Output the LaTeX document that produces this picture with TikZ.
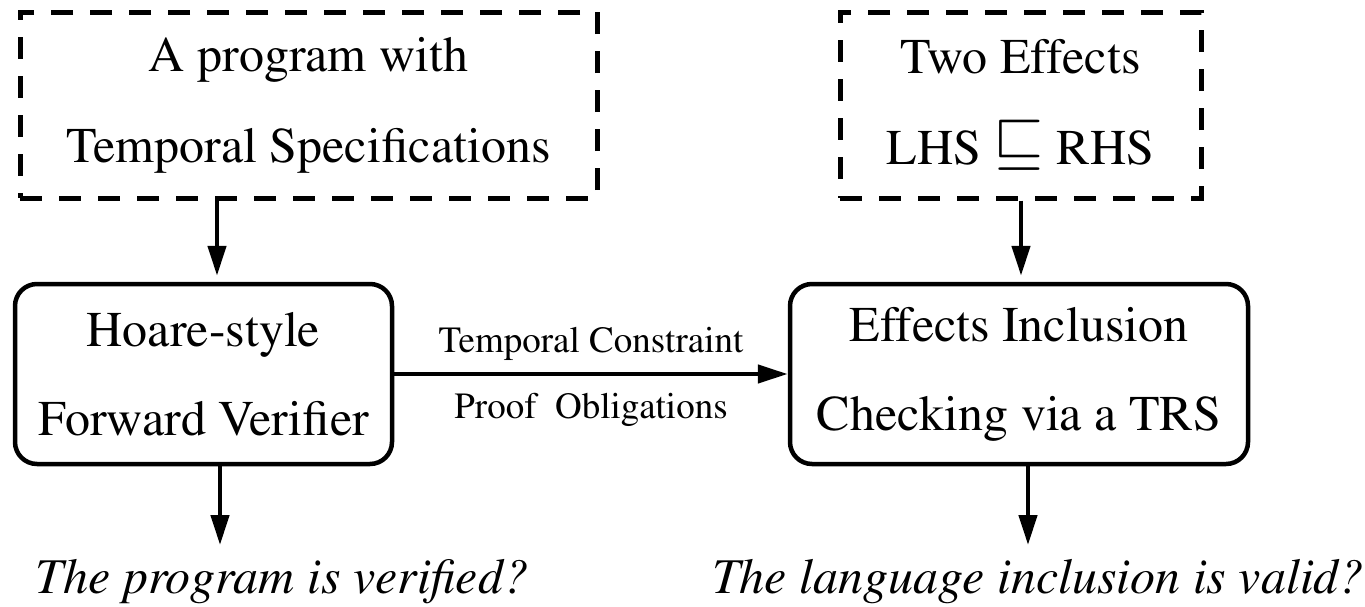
\documentclass[tikz,border=0pt]{standalone}
\usepackage[T1]{fontenc}
\usepackage{mathptmx}
\usetikzlibrary{arrows.meta}
\newcommand{\effleq}{\mathbin{\raisebox{0.06em}{\scalebox{1.3}{$\sqsubseteq$}}}}
\begin{document}
\begin{tikzpicture}[x=1pt,y=-1pt,
  inbox/.style={draw, line width=5pt, dash pattern=on 22pt off 17pt, align=center,
    font=\fontsize{50}{91}\selectfont, inner sep=0pt},
  stage/.style={draw, line width=4.5pt, rounded corners=22pt, align=center,
    font=\fontsize{50}{89}\selectfont, inner sep=0pt},
  flow/.style={line width=4.5pt, -{Triangle[length=30pt,width=18pt]}},
  verdict/.style={font=\fontsize{50}{60}\selectfont\itshape, anchor=base, inner sep=0pt},
  edgelabel/.style={font=\fontsize{37}{40}\selectfont, anchor=base, inner sep=0pt}]
\useasboundingbox (0,0) rectangle (1365,606);

% inputs
\node[inbox, minimum width=577pt, minimum height=186pt] (prog) at (308.5,105)
  {A program with\\Temporal Specifications};
\node[inbox, minimum width=361pt, minimum height=186pt] (effs) at (1020.5,105)
  {Two Effects\\LHS $\effleq$ RHS};

% processing stages
\node[stage, minimum width=377pt, minimum height=180pt] (fwd) at (203.5,374)
  {Hoare-style\\Forward Verifier};
\node[stage, minimum width=458pt, minimum height=180pt] (trs) at (1019,374)
  {Effects Inclusion\\Checking via a TRS};

% results
\node[verdict] (res1) at (282,593) {The program is verified?};
\node[verdict] (res2) at (1038,593) {The language inclusion is valid?};

% arrow columns
\coordinate (c1) at (217,0);
\coordinate (c2) at (1021,0);
\coordinate (e1) at (220,545);
\coordinate (e2) at (1028,545);

\draw[flow, shorten >=6pt] (prog.south -| c1) -- (fwd.north -| c1);
\draw[flow, shorten >=6pt] (effs.south -| c2) -- (trs.north -| c2);
\draw[flow] (fwd.east) --
  node[edgelabel, yshift=22pt] (ob1) {Temporal Constraint}
  node[edgelabel, yshift=-44pt] (ob2) {Proof\ \ Obligations}
  (trs.west);
\draw[flow] (fwd.south -| e1) -- (e1);
\draw[flow] (trs.south -| e2) -- (e2);
\end{tikzpicture}
\end{document}
